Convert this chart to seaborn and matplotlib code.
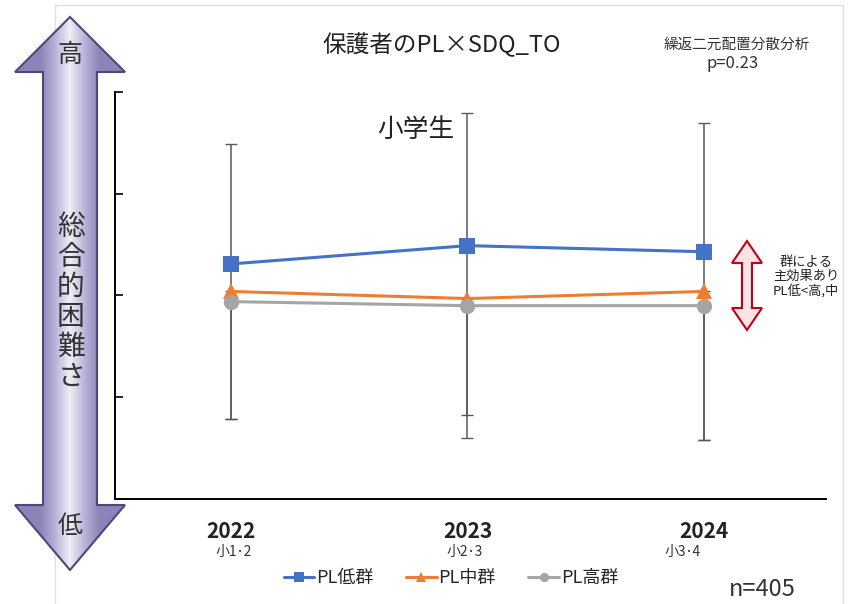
import numpy as np
import pandas as pd
import seaborn as sns
import matplotlib.pyplot as plt
from matplotlib.patches import Polygon, Rectangle
from matplotlib.colors import LinearSegmentedColormap

# data (y, arbitrary units 0-4)
years = ["2022", "2023", "2024"]
grades = ["小1･2", "小2･3", "小3･4"]
groups = ["PL低群", "PL中群", "PL高群"]
pl_low = [2.31, 2.49, 2.43]
pl_mid = [2.04, 1.97, 2.04]
pl_high = [1.94, 1.90, 1.90]
err_top = [3.49, 3.79, 3.70]
err_bottom = [0.79, 0.60, 0.58]
mid_bottom = [0.79, 0.83, 0.58]

sns.set_theme(style="white")
plt.rcParams['font.family'] = ['Noto Sans CJK JP', 'DejaVu Sans']

df = pd.DataFrame({
    "x": list(range(3)) * 3,
    "value": pl_low + pl_mid + pl_high,
    "group": [g for g in groups for _ in range(3)],
})

colors = {"PL低群": "#4472C4", "PL中群": "#ED7D31", "PL高群": "#A5A5A5"}
markers = {"PL低群": "s", "PL中群": "^", "PL高群": "o"}

fig = plt.figure(figsize=(8.62, 6.04), dpi=100)

# background layer in pixel coords for slide decorations
bg = fig.add_axes([0, 0, 1, 1], zorder=-1)
bg.set_xlim(0, 862)
bg.set_ylim(604, 0)
bg.axis("off")

ax = fig.add_axes([115 / 862, 1 - 499 / 604, (826 - 115) / 862, (499 - 92) / 604])
ax.patch.set_alpha(0)

# error bars
ax.errorbar(range(3), pl_high,
            yerr=[np.array(pl_high) - np.array(err_bottom), np.array(err_top) - np.array(pl_high)],
            fmt="none", ecolor="#595959", elinewidth=1.1, capsize=4, zorder=1)
ax.errorbar(range(3), pl_mid,
            yerr=[np.array(pl_mid) - np.array(mid_bottom), np.zeros(3)],
            fmt="none", ecolor="#595959", elinewidth=1.1, capsize=4, zorder=1)

sns.lineplot(data=df, x="x", y="value", hue="group", style="group",
             palette=colors, markers=markers, dashes=False, markersize=11,
             markeredgewidth=0, linewidth=2.2, ax=ax, zorder=3)

ax.set_xlim(-0.49, 2.516)
ax.set_ylim(0, 4)
ax.set_yticks([0, 1, 2, 3, 4])
ax.set_yticklabels([])
ax.set_xticks(range(3))
ax.set_xticklabels(years, fontsize=15, fontweight="bold", color="#222222")
ax.tick_params(axis="x", length=0, pad=16)
ax.tick_params(axis="y", direction="in", length=6, width=1.2, color="black", left=True)
ax.set_xlabel("")
ax.set_ylabel("")
for s in ["top", "right"]:
    ax.spines[s].set_visible(False)
for s in ["left", "bottom"]:
    ax.spines[s].set_color("black")
    ax.spines[s].set_linewidth(1.4)

# grade sub labels
offsets = [0.01, -0.01, -0.09]
for i, g in enumerate(grades):
    ax.text(i + offsets[i], -0.52, g, fontsize=10, ha="center", va="center",
            color="#333333", transform=ax.transData, clip_on=False)

h, l = ax.get_legend_handles_labels()
ax.legend(h, l, loc="center", bbox_to_anchor=(451 / 862, 0.043), bbox_transform=fig.transFigure,
          ncol=3, frameon=False, fontsize=13, handlelength=1.7, handletextpad=0.1,
          columnspacing=1.8, markerscale=0.6)

# slide frame
bg.add_patch(Rectangle((55, 5), 788, 640, fill=False, edgecolor="#e0e0e0", linewidth=1))

# big double arrow on the left
pts = [(70, 17), (125, 72), (97, 72), (97, 505), (125, 505), (70, 570),
       (15, 505), (43, 505), (43, 72), (15, 72)]
arrow = Polygon(pts, closed=True, facecolor="none", edgecolor="#4f4878", linewidth=1.5, zorder=3)
bg.add_patch(arrow)
xs = np.linspace(15, 125, 200)
t = np.clip(np.abs(xs - 70) / 30, 0, 1)
grad = np.tile(t, (10, 1))
cmap = LinearSegmentedColormap.from_list("lav", ["#eeecf6", "#b7b2d8", "#8a84b8"])
im = bg.imshow(grad, extent=(15, 125, 570, 17), cmap=cmap, aspect="auto", zorder=2)
im.set_clip_path(Polygon(pts, closed=True, transform=bg.transData))
bg.text(70, 55, "高", fontsize=18, ha="center", va="center", color="#333333")
bg.text(70, 526, "低", fontsize=18, ha="center", va="center", color="#333333")
bg.text(71, 302, "\n".join("総合的困難さ"), fontsize=20, ha="center", va="center",
        color="#333333", linespacing=1.0)

# red double arrow
rpts = [(747, 241), (762, 263), (752, 263), (752, 308), (762, 308), (747, 330),
        (732, 308), (742, 308), (742, 263), (732, 263)]
bg.add_patch(Polygon(rpts, closed=True, facecolor="#fbe4e4", edgecolor="#c00018", linewidth=1.5))
bg.text(806, 277, "群による\n主効果あり\nPL低<高,中", fontsize=9.5, ha="center", va="center",
        color="#222222", linespacing=1.1)

# titles and notes
bg.text(442, 45, "保護者のPL×SDQ_TO", fontsize=17, ha="center", va="center", color="#222222")
bg.text(737, 45, "繰返二元配置分散分析", fontsize=10.5, ha="center", va="center", color="#333333")
bg.text(733, 64, "p=0.23", fontsize=12, ha="center", va="center", color="#333333")
bg.text(416, 130, "小学生", fontsize=18.5, ha="center", va="center", color="#222222")
bg.text(762, 590, "n=405", fontsize=17, ha="center", va="center", color="#333333")

fig.savefig("out.png", dpi=100)
